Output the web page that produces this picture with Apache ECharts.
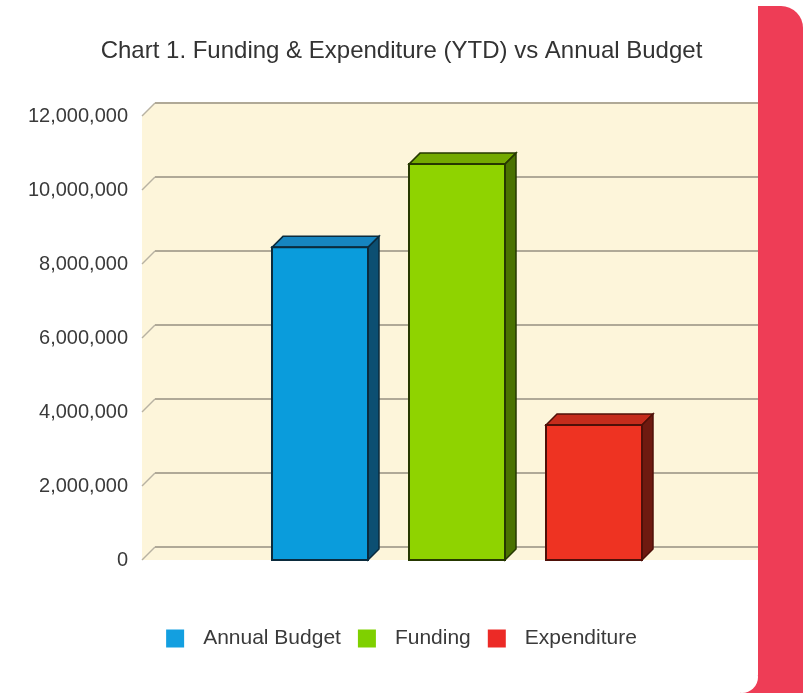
<!DOCTYPE html>
<html>
<head>
<meta charset="utf-8">
<title>Chart 1. Funding & Expenditure (YTD) vs Annual Budget</title>
<script src="https://cdn.jsdelivr.net/npm/echarts@6/dist/echarts.min.js"></script>
<style>
  html, body { margin: 0; padding: 0; background: #fff; }
  #chart { width: 803px; height: 693px; }
</style>
</head>
<body>
<div id="chart"></div>
<script>
// data
const categories = ['YTD'];
const seriesNames = ['Annual Budget', 'Funding', 'Expenditure'];
const seriesValues = [8450000, 10700000, 3650000];
const yTicks = [0, 2000000, 4000000, 6000000, 8000000, 10000000, 12000000];

// colours for each bar: front face, top, side, outline
const palette = [
  { front: '#0a9cdc', top: '#1685c0', side: '#0c4f72', edge: '#0b2b3d', legend: '#139fe0' },
  { front: '#8fd300', top: '#74aa00', side: '#4a7200', edge: '#263800', legend: '#7fd000' },
  { front: '#ee3322', top: '#c52c1c', side: '#6e1a10', edge: '#4f1008', legend: '#ec2a26' }
];

const WALL = 13;      // depth of the back wall
const BAR_DEPTH = 11; // depth of each bar
const BAR_W = 96;
const BAR_STEP = 137;
const FONT = '"Liberation Sans", Arial, sans-serif';
const PANEL_RED = '#ee3d56';

const chart = echarts.init(document.getElementById('chart'));

// back wall: cream background, gridlines and the little diagonals on the left
function renderWall(params, api) {
  const cs = params.coordSys;
  const L = cs.x;
  const y = api.coord([0, api.value(1)])[1];
  const children = [];
  if (params.dataIndex === 0) {
    const T = cs.y, B = cs.y + cs.height;
    children.push({
      type: 'polygon',
      shape: { points: [[L, T], [L + WALL, T - WALL], [803, T - WALL], [803, B], [L, B]] },
      style: { fill: '#fdf5da' }
    });
  }
  children.push({
    type: 'line',
    shape: { x1: L, y1: y, x2: L + WALL, y2: y - WALL },
    style: { stroke: '#b8b2a2', lineWidth: 1.5 }
  });
  children.push({
    type: 'line',
    shape: { x1: L + WALL, y1: y - WALL, x2: 803, y2: y - WALL },
    style: { stroke: '#b0a997', lineWidth: 2 }
  });
  return { type: 'group', children: children };
}

// a 3D looking bar, shifted sideways by its series index
function renderBar(i) {
  return function (params, api) {
    const base = api.coord([api.value(0), 0]);
    const top = api.coord([api.value(0), api.value(1)]);
    const cx = base[0] + (i - 1) * BAR_STEP;
    const x0 = cx - BAR_W / 2, x1 = cx + BAR_W / 2;
    const y0 = top[1], y1 = base[1];
    const d = BAR_DEPTH;
    const c = palette[i];
    return {
      type: 'group',
      children: [
        {
          type: 'polygon',
          shape: { points: [[x0, y0], [x0 + d, y0 - d], [x1 + d, y0 - d], [x1, y0]] },
          style: { fill: c.top, stroke: c.edge, lineWidth: 1.5 }
        },
        {
          type: 'polygon',
          shape: { points: [[x1, y0], [x1 + d, y0 - d], [x1 + d, y1 - d], [x1, y1]] },
          style: { fill: c.side, stroke: c.edge, lineWidth: 1.5 }
        },
        {
          type: 'rect',
          shape: { x: x0, y: y0, width: BAR_W, height: y1 - y0 },
          style: { fill: c.front, stroke: c.edge, lineWidth: 2 }
        }
      ]
    };
  };
}

const barSeries = seriesNames.map((name, i) => ({
  name: name,
  type: 'custom',
  z: 3,
  itemStyle: { color: palette[i].legend },
  renderItem: renderBar(i),
  data: [[0, seriesValues[i]]]
}));

const option = {
  backgroundColor: '#ffffff',
  animation: false,
  title: {
    text: 'Chart 1. Funding & Expenditure (YTD) vs Annual Budget',
    left: 'center',
    top: 34,
    textStyle: { fontFamily: FONT, fontSize: 24, fontWeight: 'normal', color: '#333' }
  },
  legend: {
    top: 623,
    left: 'center',
    icon: 'rect',
    itemWidth: 18,
    itemHeight: 18,
    itemGap: 17,
    textStyle: { fontFamily: FONT, fontSize: 21, color: '#3a3a3a', padding: [0, 0, 0, 14] },
    data: seriesNames.map((name, i) => ({ name: name, itemStyle: { color: palette[i].legend } }))
  },
  grid: { left: 142, right: 31, top: 116, bottom: 133 },
  xAxis: {
    type: 'category',
    data: categories,
    show: false
  },
  yAxis: {
    type: 'value',
    min: 0,
    max: 12000000,
    interval: 2000000,
    axisLine: { show: false },
    axisTick: { show: false },
    splitLine: { show: false },
    axisLabel: {
      margin: 14,
      fontFamily: FONT,
      fontSize: 20,
      color: '#3a3a3a',
      formatter: v => v.toLocaleString('en-US')
    }
  },
  // red side panel with the rounded corner of the white card at its foot
  graphic: [
    {
      type: 'rect',
      z: 100,
      shape: { x: 758, y: 6, width: 45, height: 687, r: [0, 22, 0, 0] },
      style: { fill: PANEL_RED }
    },
    {
      type: 'rect',
      z: 100,
      shape: { x: 740, y: 675, width: 20, height: 18 },
      style: { fill: PANEL_RED }
    },
    {
      type: 'circle',
      z: 101,
      shape: { cx: 742, cy: 677, r: 16 },
      style: { fill: '#ffffff' }
    }
  ],
  series: [
    {
      name: 'wall',
      type: 'custom',
      z: 1,
      silent: true,
      renderItem: renderWall,
      data: yTicks.map(v => [0, v])
    }
  ].concat(barSeries)
};

chart.setOption(option);
</script>
</body>
</html>
